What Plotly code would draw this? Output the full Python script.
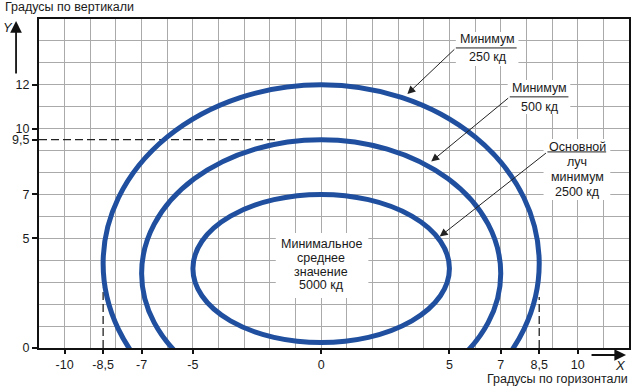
import plotly.graph_objects as go

# ---------------- data ----------------
x_range = [-11, 12]
y_range = [0, 15]
x_tick_values = [-10, -8.5, -7, -5, 0, 5, 7, 8.5, 10]
x_tick_labels = ["-10", "-8,5", "-7", "-5", "0", "5", "7", "8,5", "10"]
y_tick_values = [0, 5, 7, 9.5, 10, 12]
y_tick_labels = ["0", "5", "7", "9,5", "10", "12"]

# isocandela contours (outer -> inner): half width, top, bottom (degrees)
ellipse_half_widths = [8.5, 7.0, 5.0]
ellipse_tops = [12.0, 9.5, 7.0]
ellipse_bottoms = [-4.3, -2.7, 0.25]

# callouts: text lines, arrow tip, elbow, leader end
callout_lines = [["Минимум", "250 кд"],
                 ["Минимум", "500 кд"],
                 ["Основной", "луч", "минимум", "2500 кд"]]
callout_line_y = [[14.09, 13.27],
                  [11.86, 10.99],
                  [9.17, 8.50, 7.81, 7.13]]
callout_text_x = [6.49, 8.53, 9.99]
callout_tip_x = [3.36, 4.29, 4.62]
callout_tip_y = [11.58, 8.50, 5.08]
callout_elbow_x = [5.25, 7.35, 8.82]
callout_elbow_y = [13.68, 11.45, 8.94]
callout_end_x = [7.62, 9.64, 11.11]
callout_box_x = [[5.25, 7.69], [7.27, 9.71], [8.67, 11.27]]
callout_box_y = [[12.86, 14.41], [10.67, 12.22], [6.75, 9.53]]

center_lines = ["Минимальное", "среднее", "значение", "5000 кд"]
center_line_y = [4.72, 4.09, 3.48, 2.89]
center_box_x = [-1.77, 1.84]
center_box_y = [2.28, 5.24]

# reference dashed lines
h_dash_y = 9.5
h_dash_x = [-11, -1.73]
v_dash_x = [-8.5, 8.5]
v_dash_top = [2.75, 2.33]

# ---------------- style ----------------
FONT = "Liberation Sans, Arial, sans-serif"
TXT = "#1a1a1a"
BLUE = "#1f4f9e"
GRID = "#aaaaaa"

fig = go.Figure()
# invisible traces so both axis pairs are drawn
fig.add_trace(go.Scatter(x=[x_range[0]], y=[y_range[0]], xaxis="x2", yaxis="y2",
                         mode="markers", marker=dict(opacity=0), hoverinfo="skip",
                         showlegend=False))
fig.add_trace(go.Scatter(x=[x_range[0]], y=[y_range[0]], mode="markers",
                         marker=dict(opacity=0), hoverinfo="skip", showlegend=False))

shapes = []
# white boxes behind the texts (above grid, below curves)
for bx, by in zip(callout_box_x + [center_box_x], callout_box_y + [center_box_y]):
    shapes.append(dict(type="rect", xref="x", yref="y", x0=bx[0], x1=bx[1], y0=by[0], y1=by[1],
                       fillcolor="white", line=dict(width=0), layer="between"))

# dashed reference lines
dash_line = dict(color="#222222", width=1.3, dash="8px,4px")
shapes.append(dict(type="line", xref="x", yref="y", x0=h_dash_x[0], x1=h_dash_x[1],
                   y0=h_dash_y, y1=h_dash_y, line=dash_line, layer="above"))
for vx, vt in zip(v_dash_x, v_dash_top):
    shapes.append(dict(type="line", xref="x", yref="y", x0=vx, x1=vx, y0=0, y1=vt,
                       line=dash_line, layer="above"))

# contours
for hw, top, bot in zip(ellipse_half_widths, ellipse_tops, ellipse_bottoms):
    shapes.append(dict(type="circle", xref="x", yref="y", x0=-hw, x1=hw, y0=bot, y1=top,
                       line=dict(color=BLUE, width=5), fillcolor="rgba(0,0,0,0)", layer="above"))

# leader lines
for ex, ey, endx in zip(callout_elbow_x, callout_elbow_y, callout_end_x):
    shapes.append(dict(type="line", xref="x", yref="y", x0=ex, x1=endx, y0=ey, y1=ey,
                       line=dict(color="#222222", width=1), layer="above"))

annotations = []
for lines, ys, tx in zip(callout_lines, callout_line_y, callout_text_x):
    for t, y in zip(lines, ys):
        annotations.append(dict(x=tx, y=y, xref="x", yref="y", text=t, showarrow=False,
                                xanchor="center", yanchor="middle",
                                font=dict(family=FONT, size=12.5, color=TXT)))
for t, y in zip(center_lines, center_line_y):
    annotations.append(dict(x=0, y=y, xref="x", yref="y", text=t, showarrow=False,
                            xanchor="center", yanchor="middle",
                            font=dict(family=FONT, size=12.5, color=TXT)))
# callout arrows
for tx, ty, ex, ey in zip(callout_tip_x, callout_tip_y, callout_elbow_x, callout_elbow_y):
    annotations.append(dict(x=tx, y=ty, xref="x", yref="y", ax=ex, ay=ey, axref="x", ayref="y",
                            text="", showarrow=True, arrowhead=2, arrowsize=1.6,
                            arrowwidth=1, arrowcolor="#222222", standoff=0))

# axis arrows and titles (paper coordinates)
annotations.append(dict(x=-0.0389, y=0.994, xref="paper", yref="paper", ax=0, ay=54,
                        text="", showarrow=True, arrowhead=2, arrowsize=1.3, arrowwidth=1.8,
                        arrowcolor="#111111", standoff=0))
annotations.append(dict(x=0.995, y=-0.0213, xref="paper", yref="paper", ax=-36, ay=0,
                        text="", showarrow=True, arrowhead=2, arrowsize=1.3, arrowwidth=1.8,
                        arrowcolor="#111111", standoff=0))
annotations.append(dict(x=-0.0524, y=0.973, xref="paper", yref="paper", text="<i>Y</i>",
                        showarrow=False, xanchor="center", yanchor="middle",
                        font=dict(family=FONT, size=13, color=TXT)))
annotations.append(dict(x=0.986, y=-0.052, xref="paper", yref="paper", text="<i>X</i>",
                        showarrow=False, xanchor="center", yanchor="middle",
                        font=dict(family=FONT, size=13, color=TXT)))
annotations.append(dict(x=1.0017, y=-0.093, xref="paper", yref="paper",
                        text="Градусы по горизонтали", showarrow=False,
                        xanchor="right", yanchor="middle",
                        font=dict(family=FONT, size=12.5, color=TXT)))
annotations.append(dict(x=-0.0608, y=1.0365, xref="paper", yref="paper",
                        text="Градусы по вертикали", showarrow=False,
                        xanchor="left", yanchor="middle",
                        font=dict(family=FONT, size=12.5, color=TXT)))

fig.update_layout(
    width=634, height=388,
    margin=dict(l=39, r=3, t=19, b=40, pad=0),
    paper_bgcolor="white", plot_bgcolor="white",
    showlegend=False,
    shapes=shapes, annotations=annotations,
    font=dict(family=FONT, size=12.5, color=TXT),
    xaxis=dict(range=x_range, tick0=0, dtick=1, showgrid=True, gridcolor=GRID, gridwidth=1.3,
               showticklabels=False, ticks="", zeroline=False, showline=True,
               linecolor="#111111", linewidth=2, mirror=True, fixedrange=True),
    yaxis=dict(range=y_range, tick0=0, dtick=1, showgrid=True, gridcolor=GRID, gridwidth=1.3,
               showticklabels=False, ticks="", zeroline=False, showline=True,
               linecolor="#111111", linewidth=2, mirror=True, fixedrange=True),
    xaxis2=dict(range=x_range, overlaying="x", anchor="y2", side="bottom",
                tickmode="array", tickvals=x_tick_values, ticktext=x_tick_labels,
                ticks="outside", ticklen=5, tickwidth=1.5, tickcolor="#111111",
                showgrid=False, zeroline=False, showline=False,
                tickfont=dict(family=FONT, size=12.5, color=TXT), fixedrange=True),
    yaxis2=dict(range=y_range, overlaying="y", anchor="x2", side="left",
                tickmode="array", tickvals=y_tick_values, ticktext=y_tick_labels,
                ticks="outside", ticklen=6, tickwidth=1.5, tickcolor="#111111",
                showgrid=False, zeroline=False, showline=False,
                tickfont=dict(family=FONT, size=12.5, color=TXT), fixedrange=True),
)

fig.write_html("out.html", config={"displayModeBar": False})
